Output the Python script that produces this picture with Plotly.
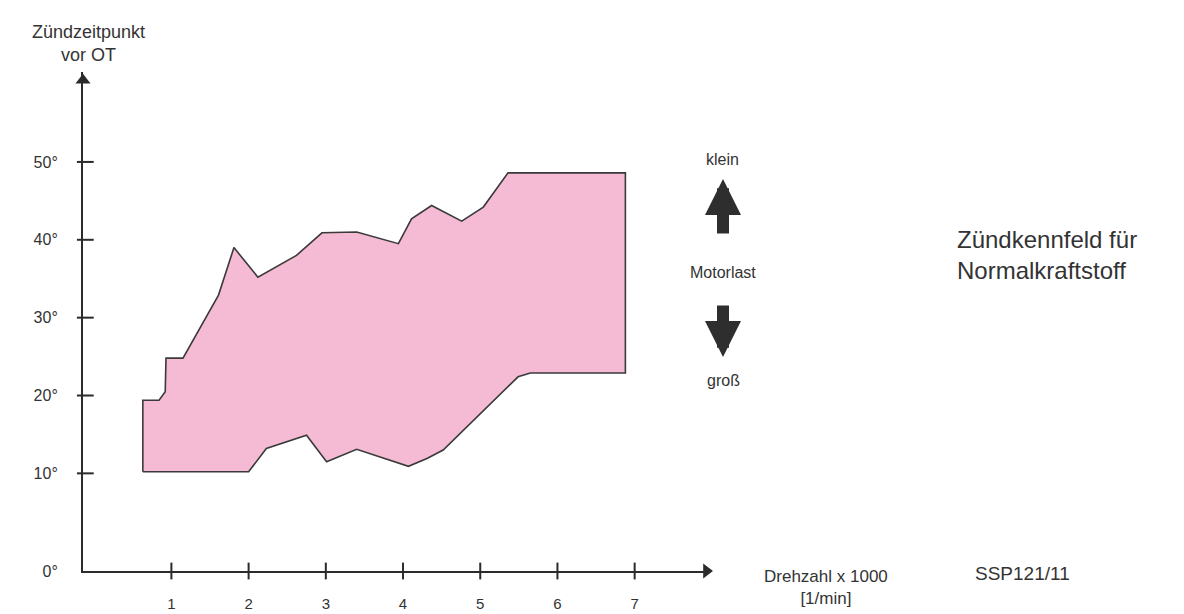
import plotly.graph_objects as go

# ---- data ----
poly_x = [0.63, 0.63, 0.84, 0.92, 0.93, 1.15, 1.61, 1.81, 2.12, 2.62, 2.95, 3.40, 3.94, 4.11, 4.37,
          4.76, 5.04, 5.36, 6.88, 6.88, 5.65, 5.49, 4.52, 4.31, 4.07, 3.40, 3.01, 2.75, 2.23, 2.00, 0.63]
poly_y = [10.2, 19.4, 19.4, 20.5, 24.8, 24.8, 32.9, 39.0, 35.2, 38.0, 40.9, 41.0, 39.5, 42.7, 44.4,
          42.4, 44.2, 48.6, 48.6, 22.9, 22.9, 22.4, 13.0, 11.9, 10.9, 13.1, 11.5, 14.9, 13.2, 10.2, 10.2]

x_ticks = [1, 2, 3, 4, 5, 6, 7]
x_tick_labels = ["1", "2", "3", "4", "5", "6", "7"]
y_ticks = [10, 20, 30, 40, 50]
y_tick_labels = ["10°", "20°", "30°", "40°", "50°"]
y_zero_label = "0°"

X_MIN, X_MAX = -0.145, 7.95
Y_MIN, Y_MAX = -2.54, 61.55

# ---- layout geometry (page pixels; page body has an 8px margin) ----
OFF = 8
FIG_W, FIG_H = 1184 - OFF, 614 - OFF
L, R, T, B = 83 - OFF, 708 - OFF, 72 - OFF, 571 - OFF
PW, PH = R - L, B - T

def pxx(p):
    return (p - OFF - L) / PW

def pxy(p):
    return (B - (p - OFF)) / PH

FONT = "Liberation Sans, Arial, Helvetica, sans-serif"
TXT = "#333333"
AX = "#2b2b2b"

fig = go.Figure()

fig.add_trace(go.Scatter(
    x=poly_x, y=poly_y, mode="lines", fill="toself",
    fillcolor="#F6BBD4", line=dict(color="#3a3a3a", width=1.6),
    hoverinfo="skip", showlegend=False))

# tick marks crossing the axes
fig.add_trace(go.Scatter(
    x=x_ticks, y=[Y_MIN] * len(x_ticks), mode="markers",
    marker=dict(symbol="line-ns", size=12, line=dict(color=AX, width=2)),
    cliponaxis=False, hoverinfo="skip", showlegend=False))
fig.add_trace(go.Scatter(
    x=[X_MIN + 0.03] * len(y_ticks), y=y_ticks, mode="markers",
    marker=dict(symbol="line-ew", size=12, line=dict(color=AX, width=2)),
    cliponaxis=False, hoverinfo="skip", showlegend=False))

# arrow heads of the axes
fig.add_trace(go.Scatter(
    x=[7.93], y=[Y_MIN], mode="markers",
    marker=dict(symbol="triangle-right", size=13, color=AX),
    cliponaxis=False, hoverinfo="skip", showlegend=False))
fig.add_trace(go.Scatter(
    x=[X_MIN], y=[60.5], mode="markers",
    marker=dict(symbol="triangle-up", size=13, color=AX),
    cliponaxis=False, hoverinfo="skip", showlegend=False))

fig.update_xaxes(
    range=[X_MIN, X_MAX], showgrid=False, zeroline=False, automargin=False,
    showline=True, linecolor=AX, linewidth=2,
    tickvals=x_ticks, ticktext=x_tick_labels, ticks="",
    ticklabelstandoff=18, tickfont=dict(family=FONT, size=15, color=TXT))
fig.update_yaxes(
    range=[Y_MIN, Y_MAX], showgrid=False, zeroline=False, automargin=False,
    showline=True, linecolor=AX, linewidth=2,
    tickvals=[Y_MIN] + y_ticks, ticktext=[y_zero_label] + y_tick_labels, ticks="",
    ticklabelstandoff=20, tickfont=dict(family=FONT, size=16, color=TXT))

def text(s, x, y, size, xanchor="center", align="center"):
    fig.add_annotation(text=s, x=pxx(x), y=pxy(y), xref="paper", yref="paper",
                       showarrow=False, xanchor=xanchor, yanchor="middle", align=align,
                       font=dict(family=FONT, size=size, color=TXT))

text("Zündzeitpunkt<br>vor OT", 88, 43, 18)
text("Drehzahl x 1000<br>[1/min]", 826, 587, 17)
text("SSP121/11", 1022, 573, 19)
text("klein", 722, 160, 16)
text("Motorlast", 723, 272, 16)
text("groß", 723, 380, 16)
text("Zündkennfeld für<br>Normalkraftstoff", 955, 255, 24, xanchor="left", align="left")

# Motorlast block arrows
fig.add_annotation(x=pxx(723), y=pxy(179), xref="paper", yref="paper", text="",
                   showarrow=True, ax=0, ay=56, arrowhead=2, arrowsize=0.6,
                   arrowwidth=12, arrowcolor="#2e2e2e")
fig.add_annotation(x=pxx(723), y=pxy(357), xref="paper", yref="paper", text="",
                   showarrow=True, ax=0, ay=-53, arrowhead=2, arrowsize=0.6,
                   arrowwidth=12, arrowcolor="#2e2e2e")

fig.update_layout(
    width=FIG_W, height=FIG_H,
    margin=dict(l=L, r=FIG_W - R, t=T, b=FIG_H - B, autoexpand=False),
    paper_bgcolor="white", plot_bgcolor="white",
    font=dict(family=FONT, color=TXT), showlegend=False)

fig.write_html("out.html")
